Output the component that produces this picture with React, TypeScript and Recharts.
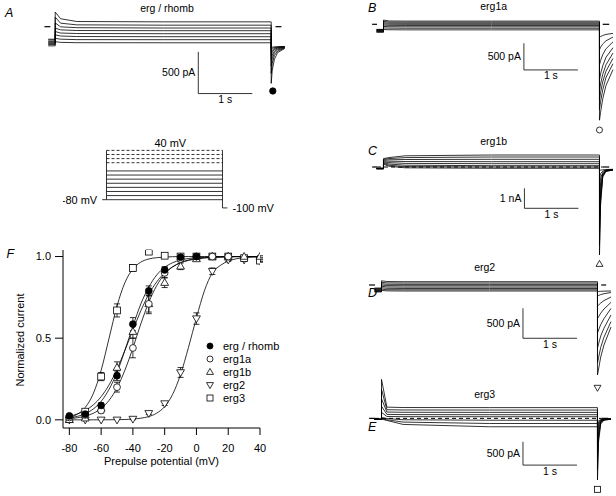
import React from 'react';
import {
  ComposedChart,
  LineChart,
  Line,
  Scatter,
  ErrorBar,
  XAxis,
  YAxis,
  ReferenceLine,
  ReferenceDot,
  Label,
} from 'recharts';

const FONT = '"Liberation Sans", Arial, sans-serif';

// ---------- F: activation curves ----------
const ergRhombV = [-80, -70, -60, -50, -40, -30, -20, -10, 0];
const ergRhombMean = [0.024, 0.035, 0.088, 0.27, 0.586, 0.79, 0.918, 0.996, 1.0];
const ergRhombErr = [0.01, 0.01, 0.015, 0.03, 0.04, 0.03, 0.02, 0.01, 0.005];

const erg1aV = [-80, -70, -60, -50, -40, -30, -20, -10, 0, 10, 20];
const erg1aMean = [0.015, 0.03, 0.057, 0.2, 0.44, 0.71, 0.9, 0.985, 1.0, 1.0, 1.0];
const erg1aErr = [0.01, 0.01, 0.015, 0.03, 0.06, 0.05, 0.03, 0.015, 0.005, 0.005, 0.005];

const erg1bV = [-80, -70, -60, -50, -40, -30, -20, -10, 0, 10, 20, 30, 40];
const erg1bMean = [0.0, 0.01, 0.07, 0.32, 0.54, 0.71, 0.84, 0.94, 0.985, 1.0, 1.0, 1.0, 1.0];
const erg1bErr = [0.005, 0.01, 0.02, 0.035, 0.04, 0.06, 0.03, 0.02, 0.01, 0.005, 0.005, 0.005, 0.005];

const erg2V = [-80, -70, -60, -50, -40, -30, -20, -10, 0, 10, 20, 30, 40];
const erg2Mean = [0.0, 0.0, 0.0, 0.0, 0.005, 0.04, 0.1, 0.29, 0.62, 0.91, 0.98, 0.98, 0.975];
const erg2Err = [0, 0, 0, 0, 0.004, 0.008, 0.012, 0.03, 0.035, 0.02, 0.01, 0.01, 0.01];

const erg3V = [-80, -70, -60, -50, -40, -30, -20, -10, 0, 10, 20, 30, 40];
const erg3Mean = [0.004, 0.05, 0.265, 0.67, 0.93, 1.03, 1.005, 1.0, 1.0, 1.0, 1.0, 0.99, 0.975];
const erg3Err = [0.005, 0.01, 0.025, 0.04, 0.02, 0.01, 0.005, 0.005, 0.005, 0.005, 0.005, 0.005, 0.005];

const fitV = [-82, -80, -75, -70, -65, -60, -55, -50, -45, -40, -35, -30, -25, -20, -15, -10, -5, 0, 5, 10, 15, 20, 25, 30, 35, 40];
const ergRhombFit = [0.009, 0.012, 0.021, 0.038, 0.066, 0.113, 0.187, 0.29, 0.427, 0.573, 0.71, 0.813, 0.887, 0.934, 0.962, 0.979, 0.988, 0.993, 0.996, 0.998, 0.999, 1, 1, 1, 1, 1];
const erg1aFit = [0.006, 0.007, 0.013, 0.023, 0.04, 0.07, 0.119, 0.196, 0.305, 0.44, 0.588, 0.72, 0.822, 0.893, 0.937, 0.963, 0.979, 0.988, 0.993, 0.996, 0.998, 0.999, 1, 1, 1, 1];
const erg1bFit = [0.019, 0.022, 0.036, 0.057, 0.091, 0.142, 0.214, 0.31, 0.426, 0.55, 0.668, 0.769, 0.845, 0.9, 0.937, 0.961, 0.976, 0.985, 0.991, 0.994, 0.996, 0.998, 0.999, 0.999, 1, 1];
const erg2Fit = [0, 0, 0, 0, 0, 0, 0.0005, 0.001, 0.002, 0.005, 0.01, 0.02, 0.041, 0.081, 0.156, 0.278, 0.444, 0.625, 0.79, 0.9, 0.945, 0.972, 0.986, 0.993, 0.996, 0.998];
const erg3Fit = [0.011, 0.015, 0.034, 0.076, 0.159, 0.303, 0.5, 0.697, 0.841, 0.924, 0.966, 0.985, 0.993, 0.997, 0.999, 1, 1, 1, 1, 1, 1, 1, 1, 1, 1, 1];

const vTicks = [-80, -60, -40, -20, 0, 20, 40];
const nTicks = [0, 0.5, 1];

// ---------- current traces (pA), shared sample times (s) ----------
const traceTimes = [-0.13, 0, 0, 0.1, 0.4, 2, 4, 4, 4.02, 4.06, 4.12, 4.25];

const ergRhombTraces = [
  [-150, -150, 175, 95, 62, 58, 58, -680, -520, -390, -310, -262],
  [-175, -175, 115, 42, 22, 18, 18, -560, -440, -345, -292, -256],
  [-195, -195, 45, -2, -12, -16, -16, -470, -385, -312, -278, -252],
  [-215, -215, -18, -38, -46, -48, -48, -400, -340, -292, -266, -248],
  [-160, -160, -58, -76, -82, -84, -84, -345, -302, -274, -256, -243],
  [-205, -205, -98, -112, -118, -120, -120, -305, -280, -262, -250, -241],
  [-230, -230, -140, -150, -155, -156, -156, -272, -260, -250, -244, -240],
  [-185, -185, -180, -188, -192, -193, -193, -252, -246, -242, -240, -238],
];

const erg1aTraces = [
  [-95, -95, 80, 62, 60, 60, 60, -1800, -1650, -1400, -1150, -850],
  [-110, -110, 55, 42, 40, 40, 40, -1600, -1450, -1230, -1000, -740],
  [-125, -125, 30, 22, 20, 20, 20, -1420, -1280, -1080, -880, -640],
  [-140, -140, 8, 2, 0, 0, 0, -1250, -1120, -940, -760, -540],
  [-100, -100, -15, -20, -22, -22, -22, -1040, -930, -780, -620, -440],
  [-130, -130, -40, -45, -47, -47, -47, -760, -680, -570, -460, -330],
  [-150, -150, -68, -72, -74, -74, -74, -480, -430, -370, -310, -240],
  [-120, -120, -98, -102, -104, -104, -104, -250, -230, -210, -190, -170],
];

const erg1bTraces = [
  [-60, -60, 420, 470, 560, 600, 600, -4400, -1900, -500, -220, -150],
  [-70, -70, 380, 420, 470, 500, 500, -3900, -1700, -460, -210, -145],
  [-80, -80, 340, 360, 375, 385, 385, -3300, -1450, -420, -200, -140],
  [-65, -65, 300, 290, 275, 265, 265, -2600, -1150, -380, -190, -135],
  [-75, -75, 260, 220, 180, 165, 165, -1900, -850, -330, -180, -130],
  [-85, -85, 220, 150, 90, 65, 65, -1200, -560, -270, -165, -125],
  [-90, -90, 180, 90, 20, 0, 0, -600, -330, -210, -150, -120],
  [-95, -95, 140, 40, -40, -65, -65, -200, -160, -140, -125, -115],
];

const erg2Traces = [
  [-50, -50, 70, 58, 55, 55, 55, -1500, -1400, -1200, -1000, -700],
  [-60, -60, 45, 35, 33, 33, 33, -1300, -1210, -1040, -870, -610],
  [-70, -70, 22, 12, 10, 10, 10, -1050, -980, -850, -720, -500],
  [-80, -80, 0, -10, -12, -12, -12, -800, -750, -660, -560, -390],
  [-90, -90, -22, -32, -35, -35, -35, -560, -530, -470, -400, -290],
  [-100, -100, -45, -55, -58, -58, -58, -350, -335, -300, -260, -200],
  [-110, -110, -68, -78, -80, -80, -80, -180, -175, -160, -145, -125],
  [-115, -115, -90, -98, -100, -100, -100, -110, -108, -105, -102, -100],
];

const erg3Traces = [
  [-20, -20, 835, 240, 232, 230, 230, -1320, -500, -120, -40, -20],
  [-25, -25, 620, 185, 180, 178, 178, -1100, -420, -100, -35, -18],
  [-15, -15, 420, 135, 130, 128, 128, -850, -330, -80, -30, -16],
  [-20, -20, 260, 85, 80, 78, 78, -600, -240, -65, -25, -14],
  [-22, -22, 130, 40, 36, 35, 35, -400, -160, -50, -22, -12],
  [-18, -18, 20, -5, -30, -40, -40, -250, -110, -40, -20, -12],
  [-20, -20, -5, -30, -80, -110, -110, -150, -80, -35, -18, -10],
  [-24, -24, -15, -45, -130, -180, -180, -80, -50, -28, -15, -10],
];

// ---------- voltage protocol (mV) ----------
const solidLevels = [-80, -70, -60, -50, -40, -30, -20, -10];
const dashedLevels = [10, 20, 30, 40];

const PX_PER_S = 54;

type Kind = 'dot' | 'circle' | 'up' | 'down' | 'square';

const Sym = ({ cx, cy, kind, s = 3.4 }: { cx: number; cy: number; kind: Kind; s?: number }) => {
  if (cx == null || cy == null) return null;
  const st = { stroke: '#000', strokeWidth: 0.8 };
  if (kind === 'dot') return <circle cx={cx} cy={cy} r={s} fill="#000" {...st} />;
  if (kind === 'circle') return <circle cx={cx} cy={cy} r={s} fill="#fff" {...st} />;
  if (kind === 'square')
    return <rect x={cx - s} y={cy - s} width={2 * s} height={2 * s} fill="#fff" {...st} />;
  if (kind === 'up')
    return (
      <polygon
        points={`${cx},${cy - s * 1.2} ${cx - s * 1.15},${cy + s * 0.8} ${cx + s * 1.15},${cy + s * 0.8}`}
        fill="#fff"
        {...st}
      />
    );
  return (
    <polygon
      points={`${cx},${cy + s * 1.2} ${cx - s * 1.15},${cy - s * 0.8} ${cx + s * 1.15},${cy - s * 0.8}`}
      fill="#fff"
      {...st}
    />
  );
};

interface Geo {
  onsetX: number;
  baseY: number;
  pxPerPA: number;
  tDomain: [number, number];
  iDomain: [number, number];
}

interface PanelProps {
  geo: Geo;
  traces: number[][];
  title: { t: number; i: number; text: string };
  bar: { t: number; i: number; di: number; label: string };
  marker: { t: number; i: number; kind: Kind };
  zeroMarks?: [number, number][];
  zeroDashed?: [number, number];
}

const textStyle = { fontSize: 10.5, fill: '#000', fontFamily: FONT };

const TracePanel: React.FC<PanelProps> = ({ geo, traces, title, bar, marker, zeroMarks, zeroDashed }) => {
  const left = geo.onsetX + geo.tDomain[0] * PX_PER_S;
  const width = (geo.tDomain[1] - geo.tDomain[0]) * PX_PER_S;
  const top = geo.baseY - geo.iDomain[1] * geo.pxPerPA;
  const height = (geo.iDomain[1] - geo.iDomain[0]) * geo.pxPerPA;
  const rows = traceTimes.map((t, k) => {
    const r: Record<string, number> = { t };
    traces.forEach((tr, j) => {
      r['s' + j] = tr[k];
    });
    return r;
  });
  return (
    <div style={{ position: 'absolute', left, top }}>
      <LineChart width={width} height={height} data={rows} margin={{ top: 0, right: 0, bottom: 0, left: 0 }}>
        <XAxis type="number" dataKey="t" domain={geo.tDomain} hide allowDataOverflow />
        <YAxis type="number" domain={geo.iDomain} hide allowDataOverflow />
        {traces.map((_, j) => (
          <Line
            key={j}
            dataKey={'s' + j}
            type="linear"
            stroke="#000"
            strokeWidth={0.8}
            dot={false}
            isAnimationActive={false}
          />
        ))}
        {zeroDashed && (
          <ReferenceLine
            segment={[
              { x: zeroDashed[0], y: 0 },
              { x: zeroDashed[1], y: 0 },
            ]}
            stroke="#000"
            strokeWidth={1}
            strokeDasharray="4 3"
          />
        )}
        {(zeroMarks || []).map((m, k) => (
          <ReferenceLine
            key={k}
            segment={[
              { x: m[0], y: 0 },
              { x: m[1], y: 0 },
            ]}
            stroke="#000"
            strokeWidth={1.2}
          />
        ))}
        <ReferenceLine
          segment={[
            { x: bar.t, y: bar.i },
            { x: bar.t, y: bar.i - bar.di },
          ]}
          stroke="#000"
          strokeWidth={0.8}
        >
          <Label value={bar.label} position="left" offset={3} {...textStyle} />
        </ReferenceLine>
        <ReferenceLine
          segment={[
            { x: bar.t, y: bar.i - bar.di },
            { x: bar.t + 1, y: bar.i - bar.di },
          ]}
          stroke="#000"
          strokeWidth={0.8}
        >
          <Label value="1 s" position="bottom" offset={2} {...textStyle} />
        </ReferenceLine>
        <ReferenceDot x={title.t} y={title.i} r={0} fill="none" stroke="none">
          <Label value={title.text} position="center" {...textStyle} />
        </ReferenceDot>
        <ReferenceDot
          x={marker.t}
          y={marker.i}
          r={3}
          shape={(p: any) => <Sym cx={p.cx} cy={p.cy} kind={marker.kind} s={marker.kind === 'dot' ? 3.2 : 3} />}
        />
      </LineChart>
    </div>
  );
};

const ProtocolPanel: React.FC = () => {
  const onsetX = 106;
  const pxPerS = 29;
  const pxPerMV = 0.411;
  const tDomain: [number, number] = [-1.5, 6];
  const vDomain: [number, number] = [-112, 75];
  const left = onsetX + tDomain[0] * pxPerS;
  const width = (tDomain[1] - tDomain[0]) * pxPerS;
  const top = 150 - (vDomain[1] - 40) * pxPerMV;
  const height = (vDomain[1] - vDomain[0]) * pxPerMV;
  const lbl = { fontSize: 11, fill: '#000', fontFamily: FONT };
  return (
    <div style={{ position: 'absolute', left, top }}>
      <LineChart width={width} height={height} margin={{ top: 0, right: 0, bottom: 0, left: 0 }}>
        <XAxis type="number" dataKey="t" domain={tDomain} hide allowDataOverflow />
        <YAxis type="number" dataKey="v" domain={vDomain} hide allowDataOverflow />
        {solidLevels.map((v) => (
          <Line
            key={v}
            data={[
              { t: 0, v },
              { t: 4, v },
            ]}
            dataKey="v"
            stroke="#000"
            strokeWidth={0.8}
            dot={false}
            isAnimationActive={false}
          />
        ))}
        {dashedLevels.map((v) => (
          <Line
            key={v}
            data={[
              { t: 0, v },
              { t: 4, v },
            ]}
            dataKey="v"
            stroke="#000"
            strokeWidth={0.8}
            strokeDasharray="3 2"
            dot={false}
            isAnimationActive={false}
          />
        ))}
        <ReferenceLine segment={[{ x: 0, y: -80 }, { x: 0, y: 40 }]} stroke="#000" strokeWidth={0.8} />
        <ReferenceLine segment={[{ x: 4, y: 40 }, { x: 4, y: -100 }]} stroke="#000" strokeWidth={0.8} />
        <ReferenceLine segment={[{ x: -0.15, y: -80 }, { x: 0, y: -80 }]} stroke="#000" strokeWidth={0.8}>
          <Label value="-80 mV" position="left" offset={5} {...lbl} />
        </ReferenceLine>
        <ReferenceLine segment={[{ x: 4, y: -100 }, { x: 4.17, y: -100 }]} stroke="#000" strokeWidth={0.8}>
          <Label value="-100 mV" position="right" offset={5} {...lbl} />
        </ReferenceLine>
        <ReferenceDot x={2.2} y={40} r={0} fill="none" stroke="none">
          <Label value="40 mV" position="top" offset={3} {...lbl} />
        </ReferenceDot>
      </LineChart>
    </div>
  );
};

const toRows = (v: number[], n: number[], e?: number[]) =>
  v.map((x, k) => ({ v: x, n: n[k], e: e ? e[k] : 0 }));

const fitSeries = [ergRhombFit, erg1aFit, erg1bFit, erg2Fit, erg3Fit];

const pointSeries: { name: string; kind: Kind; v: number[]; n: number[]; e: number[] }[] = [
  { name: 'erg2', kind: 'down', v: erg2V, n: erg2Mean, e: erg2Err },
  { name: 'erg3', kind: 'square', v: erg3V, n: erg3Mean, e: erg3Err },
  { name: 'erg1b', kind: 'up', v: erg1bV, n: erg1bMean, e: erg1bErr },
  { name: 'erg1a', kind: 'circle', v: erg1aV, n: erg1aMean, e: erg1aErr },
  { name: 'erg / rhomb', kind: 'dot', v: ergRhombV, n: ergRhombMean, e: ergRhombErr },
];

const legendItems: { name: string; kind: Kind }[] = [
  { name: 'erg / rhomb', kind: 'dot' },
  { name: 'erg1a', kind: 'circle' },
  { name: 'erg1b', kind: 'up' },
  { name: 'erg2', kind: 'down' },
  { name: 'erg3', kind: 'square' },
];

const ActivationPanel: React.FC = () => (
  <div style={{ position: 'absolute', left: 0, top: 240 }}>
    <ComposedChart width={300} height={230} margin={{ top: 10, right: 40, bottom: 2, left: 23 }}>
      <XAxis
        type="number"
        dataKey="v"
        domain={[-84, 40]}
        ticks={vTicks}
        allowDataOverflow
        height={40}
        tickSize={7}
        tickMargin={9}
        axisLine={{ stroke: '#000' }}
        tickLine={{ stroke: '#000' }}
        tick={{ fill: '#000', fontSize: 11, fontFamily: FONT }}
      >
        <Label value="Prepulse potential (mV)" position="insideBottom" offset={3} fontSize={11} fill="#000" fontFamily={FONT} />
      </XAxis>
      <YAxis
        type="number"
        dataKey="n"
        domain={[-0.05, 1.04]}
        ticks={nTicks}
        allowDataOverflow
        width={40}
        tickSize={8}
        tickMargin={4}
        tickFormatter={(x: number) => x.toFixed(1)}
        axisLine={{ stroke: '#000' }}
        tickLine={{ stroke: '#000' }}
        tick={{ fill: '#000', fontSize: 11, fontFamily: FONT }}
      />
      {fitSeries.map((f, k) => (
        <Line
          key={'fit' + k}
          data={toRows(fitV, f)}
          dataKey="n"
          type="monotone"
          stroke="#000"
          strokeWidth={0.8}
          dot={false}
          isAnimationActive={false}
        />
      ))}
      {pointSeries.map((s) => (
        <Scatter
          key={s.name}
          name={s.name}
          data={toRows(s.v, s.n, s.e)}
          dataKey="n"
          isAnimationActive={false}
          shape={(p: any) => <Sym cx={p.cx} cy={p.cy} kind={s.kind} />}
        >
          <ErrorBar dataKey="e" direction="y" width={3} stroke="#000" strokeWidth={0.8} />
        </Scatter>
      ))}
    </ComposedChart>
  </div>
);

const panelLetter = (ch: string, left: number, top: number) => (
  <div
    key={ch}
    style={{ position: 'absolute', left, top, fontSize: 12.5, fontStyle: 'italic', lineHeight: '13px' }}
  >
    {ch}
  </div>
);

export default function App() {
  return (
    <div
      style={{
        position: 'absolute',
        left: 0,
        top: 0,
        width: 616,
        height: 496,
        overflow: 'hidden',
        background: '#fff',
        fontFamily: FONT,
        color: '#000',
      }}
    >
      <TracePanel
        geo={{ onsetX: 55, baseY: 26.5, pxPerPA: 0.0834, tDomain: [-0.3, 4.4], iDomain: [-1015, 320] }}
        traces={ergRhombTraces}
        title={{ t: 2.07, i: 218, text: 'erg / rhomb' }}
        bar={{ t: 2.65, i: -302, di: 500, label: '500 pA' }}
        marker={{ t: 4.03, i: -771, kind: 'dot' }}
        zeroMarks={[
          [-0.2, -0.09],
          [4.08, 4.19],
        ]}
      />
      <TracePanel
        geo={{ onsetX: 383.3, baseY: 24.3, pxPerPA: 0.0533, tDomain: [-0.25, 4.3], iDomain: [-2170, 456] }}
        traces={erg1aTraces}
        title={{ t: 2.04, i: 330, text: 'erg1a' }}
        bar={{ t: 2.6, i: -356, di: 500, label: '500 pA' }}
        marker={{ t: 4.0, i: -1983, kind: 'circle' }}
        zeroMarks={[
          [-0.21, -0.12],
          [4.06, 4.18],
        ]}
      />
      <TracePanel
        geo={{ onsetX: 383.3, baseY: 167, pxPerPA: 0.02, tDomain: [-0.25, 4.3], iDomain: [-5150, 1750] }}
        traces={erg1bTraces}
        title={{ t: 2.04, i: 1265, text: 'erg1b' }}
        bar={{ t: 2.61, i: -1065, di: 1000, label: '1 nA' }}
        marker={{ t: 4.0, i: -4850, kind: 'up' }}
        zeroMarks={[
          [-0.21, -0.12],
          [4.06, 4.18],
        ]}
        zeroDashed={[-0.12, 4.06]}
      />
      <TracePanel
        geo={{ onsetX: 381.7, baseY: 285, pxPerPA: 0.06, tDomain: [-0.25, 4.3], iDomain: [-1850, 450] }}
        traces={erg2Traces}
        title={{ t: 1.91, i: 295, text: 'erg2' }}
        bar={{ t: 2.62, i: -388, di: 500, label: '500 pA' }}
        marker={{ t: 4.0, i: -1712, kind: 'down' }}
        zeroMarks={[
          [-0.23, -0.12],
          [4.07, 4.16],
        ]}
      />
      <TracePanel
        geo={{ onsetX: 381.7, baseY: 418.3, pxPerPA: 0.0467, tDomain: [-0.25, 4.3], iDomain: [-1650, 950] }}
        traces={erg3Traces}
        title={{ t: 1.91, i: 520, text: 'erg3' }}
        bar={{ t: 2.62, i: -501, di: 500, label: '500 pA' }}
        marker={{ t: 4.0, i: -1520, kind: 'square' }}
        zeroMarks={[
          [-0.23, -0.12],
          [4.07, 4.2],
        ]}
        zeroDashed={[-0.12, 4.07]}
      />
      <ProtocolPanel />
      <ActivationPanel />
      <div
        style={{
          position: 'absolute',
          left: 20,
          top: 340,
          transform: 'translate(-50%, -50%) rotate(-90deg)',
          whiteSpace: 'nowrap',
          fontSize: 11,
        }}
      >
        Normalized current
      </div>
      <div style={{ position: 'absolute', left: 204, top: 339.5, fontSize: 11 }}>
        {legendItems.map((it) => (
          <div key={it.name} style={{ display: 'flex', alignItems: 'center', height: 12.9 }}>
            <svg width={12} height={12} style={{ marginRight: 7 }}>
              <Sym cx={6} cy={6} kind={it.kind} s={3} />
            </svg>
            <span>{it.name}</span>
          </div>
        ))}
      </div>
      {panelLetter('A', 5, 6.5)}
      {panelLetter('B', 368, 2)}
      {panelLetter('C', 368, 145)}
      {panelLetter('D', 368, 287)}
      {panelLetter('E', 368, 421)}
      {panelLetter('F', 6.5, 248)}
    </div>
  );
}
